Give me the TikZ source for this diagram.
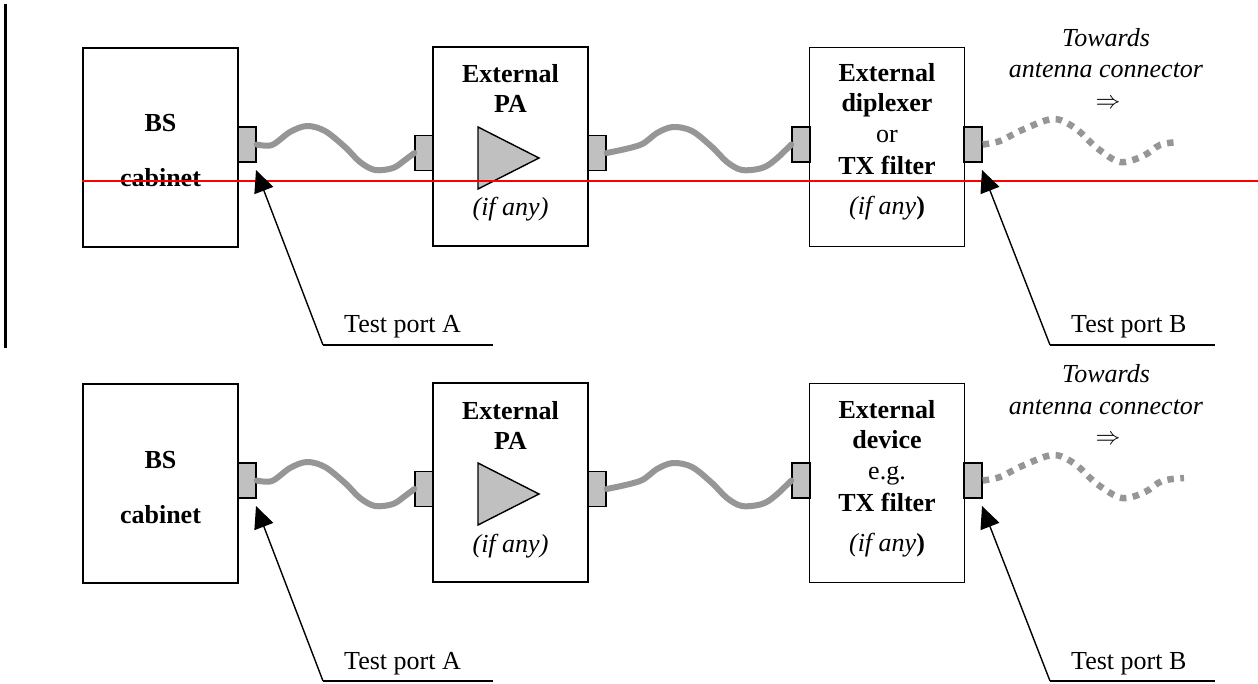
\documentclass[tikz,border=0pt]{standalone}
\usepackage{fontspec}
\setmainfont{Liberation Serif}
\usetikzlibrary{arrows.meta}
\definecolor{cablegray}{RGB}{150,150,150}
\definecolor{portgray}{RGB}{192,192,192}
\tikzset{
  txt/.style={font=\fontsize{26}{31}\selectfont, inner sep=0pt, anchor=base},
  box/.style={draw, line width=1.4pt, minimum width=155pt, minimum height=199pt, inner sep=0pt},
  port/.style={draw, line width=1.4pt, fill=portgray, minimum width=18pt, minimum height=35pt, inner sep=0pt},
  cable/.style={cablegray, line width=6pt, line cap=round, line join=round},
  dotcable/.style={cablegray, line width=6.5pt, dash pattern=on 6.5pt off 6.5pt},
  callout/.style={line width=1.4pt, -{Triangle[length=22pt,width=20pt]}},
  uline/.style={line width=1.4pt},
}
\begin{document}
\begin{tikzpicture}[x=1pt,y=-1pt]
\useasboundingbox (0,0) rectangle (1258,684);
\fill[white] (0,0) rectangle (1258,684);
% left vertical line
\coordinate (vl1) at (5,4);
\coordinate (vl2) at (5,348);
\draw[line width=3pt] (vl1) -- (vl2);

% ================= Row 1 =================
\node[box] (bs) at (160.5,147.5) {};
\node[box] (pa) at (510.5,146.5) {};
\node[box] (dx) at (887,147) {};
\node[port] (c1) at (247,144.5) {};
\node[port] (c2) at (424,153) {};
\node[port] (c3) at (597,153) {};
\node[port] (c4) at (801,144.5) {};
\node[port] (c5) at (973,144.5) {};
\draw[line width=1.4pt, fill=portgray] (478,127) -- (478,189) -- (539,158) -- cycle;

\node[txt] (bs1) at (160.5,132) {\textbf{BS}};
\node[txt] (bs2) at (160.5,187) {\textbf{cabinet}};
\node[txt] (pa1) at (510.5,83) {\textbf{External}};
\node[txt] (pa2) at (510.5,113) {\textbf{PA}};
\node[txt] (pa3) at (510.5,216) {\textit{(if any)}};
\node[txt] (dx1) at (887,82) {\textbf{External}};
\node[txt] (dx2) at (887,112) {\textbf{diplexer}};
\node[txt] (dx3) at (887,143) {or};
\node[txt] (dx4) at (887,175) {\textbf{TX filter}};
\node[txt] (dx5) at (887,215) {\textit{(if any}\textbf{)}};
\node[txt] (tw1) at (1106,47) {\textit{Towards}};
\node[txt] (tw2) at (1106,78) {\textit{antenna connector}};
\node[txt, anchor=center] (tw3) at (1108,104) {$\Rightarrow$};

\draw[cable] plot[smooth, tension=0.55] coordinates {(c1.east) (272,145) (290,132) (307,126) (325,131) (345,147) (360,162) (375,170) (393,168) (405,160) (c2.west)};
\draw[cable] plot[smooth, tension=0.55] coordinates {(c3.east) (640,145) (657,133) (673,127) (692,131) (712,147) (727,162) (742,170) (762,168) (775,160) (c4.west)};
\coordinate (ant1) at (1178,142);
\draw[dotcable] plot[smooth, tension=0.55] coordinates {(c5.east) (1000,141) (1022,130) (1053,119) (1075,128) (1097,148) (1120,162) (1143,156) (1160,145) (ant1)};

\draw[red, line width=2pt] (bs.west |- 0,181) coordinate (rl1) -- (1258,181) coordinate (rl2);

\coordinate (tipA) at (256,170);
\coordinate (kA) at (323,345);
\coordinate (eA) at (493,345);
\draw[callout] (kA) -- (tipA);
\draw[uline] (kA) -- (eA);
\node[txt, anchor=base west] (tA) at (344,333) {Test port A};
\coordinate (tipB) at (982,170);
\coordinate (kB) at (1050,345);
\coordinate (eB) at (1215,345);
\draw[callout] (kB) -- (tipB);
\draw[uline] (kB) -- (eB);
\node[txt, anchor=base west] (tB) at (1071,333) {Test port B};

% ================= Row 2 =================
\begin{scope}[shift={(0,336)}]
\node[box] (bsb) at (160.5,147.5) {};
\node[box] (pab) at (510.5,146.5) {};
\node[box] (dvb) at (887,147) {};
\node[port] (d1) at (247,144.5) {};
\node[port] (d2) at (424,153) {};
\node[port] (d3) at (597,153) {};
\node[port] (d4) at (801,144.5) {};
\node[port] (d5) at (973,144.5) {};
\draw[line width=1.4pt, fill=portgray] (478,127) -- (478,189) -- (539,158) -- cycle;

\node[txt] (bsb1) at (160.5,132) {\textbf{BS}};
\node[txt] (bsb2) at (160.5,187) {\textbf{cabinet}};
\node[txt] (pab1) at (510.5,83) {\textbf{External}};
\node[txt] (pab2) at (510.5,113) {\textbf{PA}};
\node[txt] (pab3) at (510.5,216) {\textit{(if any)}};
\node[txt] (dvb1) at (887,82) {\textbf{External}};
\node[txt] (dvb2) at (887,112) {\textbf{device}};
\node[txt] (dvb3) at (887,143) {e.g.};
\node[txt] (dvb4) at (887,175) {\textbf{TX filter}};
\node[txt] (dvb5) at (887,215) {\textit{(if any}\textbf{)}};
\node[txt] (twb1) at (1106,47) {\textit{Towards}};
\node[txt] (twb2) at (1106,78) {\textit{antenna connector}};
\node[txt, anchor=center] (twb3) at (1108,104) {$\Rightarrow$};

\draw[cable] plot[smooth, tension=0.55] coordinates {(d1.east) (272,145) (290,132) (307,126) (325,131) (345,147) (360,162) (375,170) (393,168) (405,160) (d2.west)};
\draw[cable] plot[smooth, tension=0.55] coordinates {(d3.east) (640,145) (657,133) (673,127) (692,131) (712,147) (727,162) (742,170) (762,168) (775,160) (d4.west)};
\coordinate (ant2) at (1184,142);
\draw[dotcable] plot[smooth, tension=0.55] coordinates {(d5.east) (1000,141) (1022,130) (1053,119) (1075,128) (1097,148) (1122,162) (1145,156) (1162,145) (ant2)};

\coordinate (tipC) at (256,170);
\coordinate (kC) at (323,345);
\coordinate (eC) at (493,345);
\draw[callout] (kC) -- (tipC);
\draw[uline] (kC) -- (eC);
\node[txt, anchor=base west] (tC) at (344,333) {Test port A};
\coordinate (tipD) at (982,170);
\coordinate (kD) at (1050,345);
\coordinate (eD) at (1215,345);
\draw[callout] (kD) -- (tipD);
\draw[uline] (kD) -- (eD);
\node[txt, anchor=base west] (tD) at (1071,333) {Test port B};
\end{scope}
\end{tikzpicture}
\end{document}
